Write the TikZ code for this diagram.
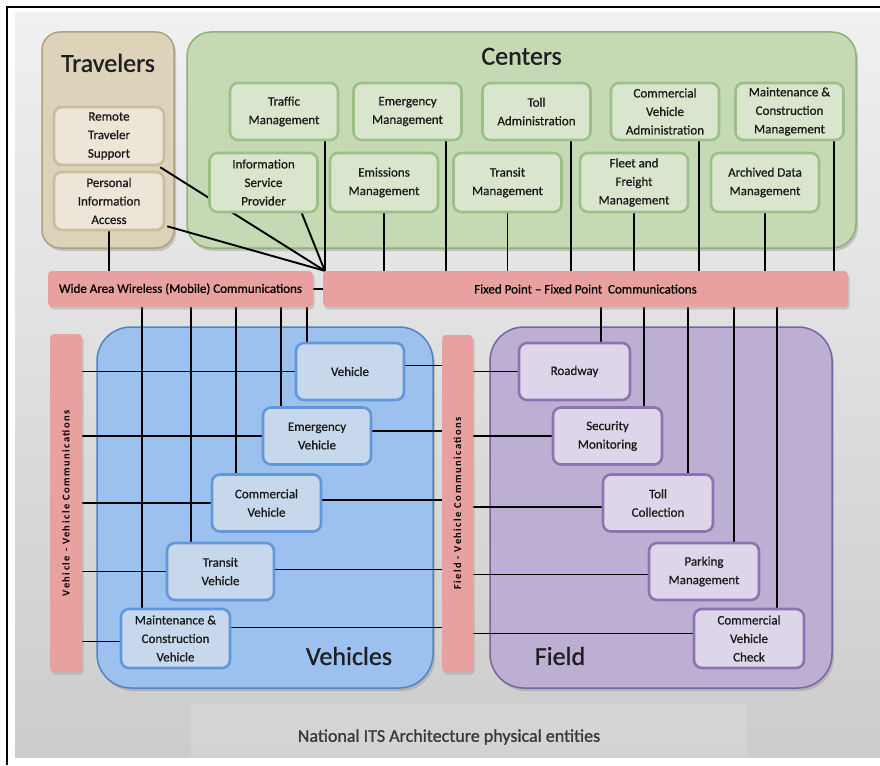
\documentclass[tikz,border=0pt]{standalone}
\usepackage{fontspec}
\setmainfont{Carlito}
\newfontfamily\entfamily{Carlito}[FakeBold=0.7]
\newfontfamily\headfamily{Carlito}[FakeBold=0.9]
\newfontfamily\spacedfont{Carlito}[LetterSpace=14]
\usepackage{xcolor}
\usetikzlibrary{positioning,shadows,calc,backgrounds}

\definecolor{panelTop}{RGB}{240,240,240}
\definecolor{panelBot}{RGB}{204,204,204}
\definecolor{travFill}{RGB}{221,210,186}
\definecolor{travLine}{RGB}{176,160,124}
\definecolor{travIn}{RGB}{236,229,216}
\definecolor{travInLine}{RGB}{204,190,156}
\definecolor{cenFill}{RGB}{196,217,180}
\definecolor{cenLine}{RGB}{140,178,118}
\definecolor{cenIn}{RGB}{217,230,205}
\definecolor{cenInLine}{RGB}{156,192,136}
\definecolor{vehFill}{RGB}{156,193,238}
\definecolor{vehLine}{RGB}{84,130,196}
\definecolor{vehIn}{RGB}{200,216,236}
\definecolor{vehInLine}{RGB}{98,152,218}
\definecolor{fldFill}{RGB}{189,175,212}
\definecolor{fldLine}{RGB}{120,100,158}
\definecolor{fldIn}{RGB}{221,213,233}
\definecolor{fldInLine}{RGB}{140,116,176}
\definecolor{barPink}{RGB}{232,161,158}

\newcommand\entfont{\entfamily\fontsize{13}{18.5}\selectfont}
\newcommand\headfont{\headfamily\fontsize{26}{30}\selectfont}

\pgfdeclarelayer{back}
\pgfdeclarelayer{wires}
\pgfsetlayers{back,wires,main}

\begin{document}
\begin{tikzpicture}[x=1pt,y=-1pt,
    wire/.style={line width=1.9pt,black},
    bigbox/.style={draw,line width=1.5pt,rounded corners=24pt,inner sep=0pt,
      drop shadow={shadow xshift=2pt,shadow yshift=-3pt,opacity=.35}},
    entity/.style={draw,line width=2.6pt,rounded corners=8pt,align=center,
      inner sep=1pt,font=\entfont,text=black!90},
    travbox/.style={entity,fill=travIn,draw=travInLine,minimum width=110pt,minimum height=58pt},
    cenbox/.style={entity,fill=cenIn,draw=cenInLine,minimum width=108pt,minimum height=57pt},
    vehbox/.style={entity,fill=vehIn,draw=vehInLine,minimum width=108pt,minimum height=57pt},
    fldbox/.style={entity,fill=fldIn,draw=fldInLine,minimum width=110pt,minimum height=57pt},
    commbar/.style={fill=barPink,rounded corners=4pt,inner sep=0pt,font=\entfont,
      drop shadow={shadow xshift=1.5pt,shadow yshift=-2.5pt,opacity=.3}},
    heading/.style={font=\headfont,text=black!88},
    barlabel/.style={rotate=90,font={\spacedfont\bfseries\fontsize{10.5}{12}\selectfont}}]

\useasboundingbox (0,0) rectangle (880,765);

\begin{pgfonlayer}{back}
  % panel and frame
  \fill[top color=panelTop,bottom color=panelBot] (15,13) rectangle (880,757);
  \fill[white,opacity=.15] (191,704) rectangle (747,757);
  \draw[line width=1.5pt] (7,765) -- (7,7) -- (880,7);

  % containers
  \node[bigbox,rounded corners=18pt,fill=travFill,draw=travLine,minimum width=132pt,minimum height=216pt] (trav) at (108,140) {};
  \node[bigbox,fill=cenFill,draw=cenLine,minimum width=669pt,minimum height=216pt] (cen) at (521.5,140) {};
  \node[bigbox,rounded corners=34pt,fill=vehFill,draw=vehLine,minimum width=336pt,minimum height=361pt] (vehs) at (265,507.5) {};
  \node[bigbox,rounded corners=34pt,fill=fldFill,draw=fldLine,minimum width=342pt,minimum height=361pt] (flds) at (661,507.5) {};
\end{pgfonlayer}

% headings
\node[heading,below=19pt of trav.north] (travtitle) {Travelers};
\node[heading,below=13pt of cen.north] (centitle) {Centers};
\node[heading] (vehtitle) at (349,656) {Vehicles};
\node[heading] (fldtitle) at (560,656) {Field};

% Travelers
\node[travbox] (rts) at (109,136) {Remote\\Traveler\\Support};
\node[travbox] (pia) at (109,201) {Personal\\Information\\Access};

% Centers
\node[cenbox] (traffic) at (284,111.5) {Traffic\\Management};
\node[cenbox] (emer) at (407.5,111.5) {Emergency\\Management};
\node[cenbox] (tolladm) at (536.5,111.5) {Toll\\Administration};
\node[cenbox] (cva) at (665,111.5) {Commercial\\Vehicle\\Administration};
\node[cenbox] (mcm) at (789.5,111.5) {Maintenance \&\\Construction\\Management};
\node[cenbox,minimum height=59pt] (isp) at (263.5,182.5) {Information\\Service\\Provider};
\node[cenbox,minimum height=59pt] (emis) at (384,182.5) {Emissions\\Management};
\node[cenbox,minimum height=59pt] (transitm) at (507.5,182.5) {Transit\\Management};
\node[cenbox,minimum height=59pt] (fleet) at (634,182.5) {Fleet and\\Freight\\Management};
\node[cenbox,minimum height=59pt] (archive) at (765,182.5) {Archived Data\\Management};

% communication bars
\node[commbar,minimum width=265pt,minimum height=36pt] (wide) at (180.5,289) {Wide Area Wireless (Mobile) Communications};
\node[commbar,minimum width=525pt,minimum height=36pt] (fixed) at (585.5,289) {Fixed Point – Fixed Point\ \ Communications};
\node[commbar,minimum width=32pt,minimum height=338pt] (vv) at (66,503) {};
\node[barlabel] (vvlabel) at (vv.center) {Vehicle - Vehicle Communications};
\node[commbar,minimum width=31pt,minimum height=337pt] (fv) at (457.5,503.5) {};
\node[barlabel] (fvlabel) at (fv.center) {Field - Vehicle Communications};

% Vehicles
\node[vehbox] (veh) at (350,371.5) {Vehicle};
\node[vehbox] (ev) at (317,436) {Emergency\\Vehicle};
\node[vehbox,minimum width=109pt] (cv) at (266.5,503) {Commercial\\Vehicle};
\node[vehbox,minimum width=107pt] (tv) at (220.5,571.5) {Transit\\Vehicle};
\node[vehbox,minimum width=109pt,minimum height=59pt] (mcv) at (175.5,638.5) {Maintenance \&\\Construction\\Vehicle};

% Field
\node[fldbox,minimum width=111pt] (road) at (574.5,371.5) {Roadway};
\node[fldbox,minimum width=109pt] (secmon) at (607.5,436) {Security\\Monitoring};
\node[fldbox] (tollc) at (658,503) {Toll\\Collection};
\node[fldbox] (park) at (704,571.5) {Parking\\Management};
\node[fldbox,minimum height=59pt] (cvc) at (749,638.5) {Commercial\\Vehicle\\Check};

% caption
\node[font=\headfamily\fontsize{18}{21}\selectfont,text=black!78] (caption) at (449,737) {National ITS Architecture physical entities};

\begin{pgfonlayer}{wires}
  % travelers and centers to the bars
  \coordinate (hub) at ([xshift=2pt]fixed.north west);
  \draw[wire] (traffic.south -| hub) -- (hub);
  \draw[wire] ([xshift=-17pt]isp.south east) -- (hub);
  \draw[wire] ([xshift=-5pt,yshift=-1pt]rts.south east) -- (hub);
  \draw[wire] ([xshift=2pt,yshift=5pt]pia.south east) -- (hub);
  \draw[wire] (pia.south) -- (pia.south |- wide.north);
  \draw[wire] (wide.east) -- (fixed.west);
  \draw[wire] ([xshift=-17pt]emer.south east) -- ([xshift=-17pt]emer.south east |- fixed.north);
  \draw[wire] (emis.south) -- (emis.south |- fixed.north);
  \draw[wire] (transitm.south) -- (transitm.south |- fixed.north);
  \draw[wire] ([xshift=-21pt]tolladm.south east) -- ([xshift=-21pt]tolladm.south east |- fixed.north);
  \draw[wire] (fleet.south) -- (fleet.south |- fixed.north);
  \draw[wire] ([xshift=-21pt]cva.south east) -- ([xshift=-21pt]cva.south east |- fixed.north);
  \draw[wire] (archive.south) -- (archive.south |- fixed.north);
  \draw[wire] ([xshift=-11pt]mcm.south east) -- ([xshift=-11pt]mcm.south east |- fixed.north);

  % wide area wireless down to vehicles
  \draw[wire] ([xshift=12pt]veh.north west |- wide.south) -- ([xshift=12pt]veh.north west);
  \draw[wire] ([xshift=19pt]ev.north west |- wide.south) -- ([xshift=19pt]ev.north west);
  \draw[wire] ([xshift=25pt]cv.north west |- wide.south) -- ([xshift=25pt]cv.north west);
  \draw[wire] ([xshift=25pt]tv.north west |- wide.south) -- ([xshift=25pt]tv.north west);
  \draw[wire] ([xshift=22pt]mcv.north west |- wide.south) -- ([xshift=22pt]mcv.north west);

  % fixed point down to field
  \draw[wire] ([xshift=-30pt]road.north east |- fixed.south) -- ([xshift=-30pt]road.north east);
  \draw[wire] ([xshift=-19pt]secmon.north east |- fixed.south) -- ([xshift=-19pt]secmon.north east);
  \draw[wire] ([xshift=-26pt]tollc.north east |- fixed.south) -- ([xshift=-26pt]tollc.north east);
  \draw[wire] ([xshift=-26pt]park.north east |- fixed.south) -- ([xshift=-26pt]park.north east);
  \draw[wire] ([xshift=-28pt]cvc.north east |- fixed.south) -- ([xshift=-28pt]cvc.north east);

  % vehicle - vehicle
  \draw[wire] (vv.east |- veh.west) -- (veh.west);
  \draw[wire] (vv.east |- ev.west) -- (ev.west);
  \draw[wire] (vv.east |- cv.west) -- (cv.west);
  \draw[wire] (vv.east |- tv.west) -- (tv.west);
  \draw[wire] ([yshift=-3pt]mcv.west -| vv.east) -- ([yshift=-3pt]mcv.west);

  % field - vehicle
  \draw[wire] ([yshift=6pt]veh.east) -- ([yshift=6pt]veh.east -| fv.west);
  \draw[wire] ([yshift=5pt]ev.east) -- ([yshift=5pt]ev.east -| fv.west);
  \draw[wire] ([yshift=3pt]cv.east) -- ([yshift=3pt]cv.east -| fv.west);
  \draw[wire] ([yshift=2pt]tv.east) -- ([yshift=2pt]tv.east -| fv.west);
  \draw[wire] ([yshift=11pt]mcv.east) -- ([yshift=11pt]mcv.east -| fv.west);
  \draw[wire] (fv.east |- road.west) -- (road.west);
  \draw[wire] (fv.east |- secmon.west) -- (secmon.west);
  \draw[wire] ([yshift=-4pt]tollc.west -| fv.east) -- ([yshift=-4pt]tollc.west);
  \draw[wire] ([yshift=-3pt]park.west -| fv.east) -- ([yshift=-3pt]park.west);
  \draw[wire] ([yshift=5pt]cvc.west -| fv.east) -- ([yshift=5pt]cvc.west);
\end{pgfonlayer}

\end{tikzpicture}
\end{document}
